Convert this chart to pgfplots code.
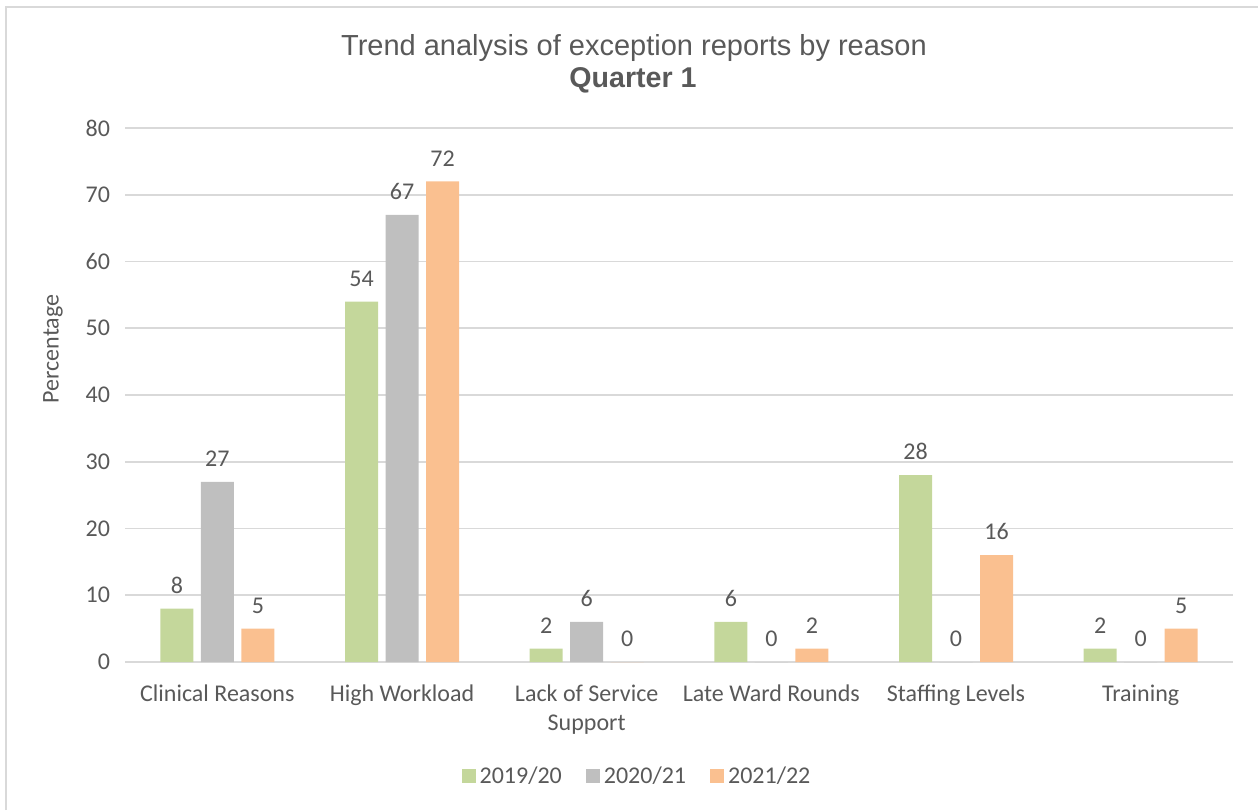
\documentclass[border=0pt]{standalone}
\usepackage{pgfplots}
\pgfplotsset{compat=1.18}
\usepackage{fontspec}
\setmainfont{Carlito}
\newfontfamily\titlefont{Liberation Sans}

\definecolor{txtgray}{HTML}{595959}
\definecolor{gridgray}{HTML}{D9D9D9}
\definecolor{cGreen}{HTML}{C4D79B}
\definecolor{cGray}{HTML}{BFBFBF}
\definecolor{cOrange}{HTML}{FAC090}

\begin{document}
\begin{tikzpicture}
% chart area (0.5pt per unit of the 1258 x 810 layout)
\path[use as bounding box] (0,0) rectangle (629pt,405pt);
\draw[gridgray, line width=0.8pt] (3pt,0) -- (3pt,401.5pt) -- (629pt,401.5pt);

\node[font=\titlefont\fontsize{14.5}{17}\selectfont, text=txtgray] at (317pt,381pt) {Trend analysis of exception reports by reason};
\node[font=\titlefont\bfseries\fontsize{14.3}{17}\selectfont, text=txtgray] at (316.5pt,365pt) {Quarter 1};

\begin{axis}[
  at={(62.5pt,74pt)}, anchor=south west,
  scale only axis, width=554pt, height=267pt,
  ybar=3.75pt, bar width=16.5pt,
  xmin=-0.5, xmax=5.5, ymin=0, ymax=80,
  xtick={0,1,2,3,4,5},
  xticklabels={Clinical Reasons, High Workload, Lack of Service\\Support, Late Ward Rounds, Staffing Levels, Training},
  xticklabel style={align=center, font=\fontsize{12}{14.5}\selectfont, text=txtgray, yshift=-8pt},
  ytick={0,10,...,80},
  yticklabel style={font=\fontsize{12}{14}\selectfont, text=txtgray, xshift=-4pt},
  /pgf/number format/assume math mode=true,
  major tick length=0pt,
  axis line style={draw=none},
  ymajorgrids, grid style={gridgray, line width=0.8pt},
  ylabel={Percentage},
  ylabel style={at={(axis description cs:-0.065,0.586)}, anchor=center, font=\fontsize{12}{14}\selectfont, text=txtgray},
  nodes near coords,
  every node near coord/.append style={font=\fontsize{12}{14}\selectfont, text=txtgray, yshift=4pt},
  legend columns=3,
  legend style={at={(axis description cs:0.463,-0.214)}, anchor=center, draw=none, fill=none,
    font=\fontsize{12}{14}\selectfont, text=txtgray,
    /tikz/every even column/.append style={column sep=10pt}},
  legend image code/.code={\fill[#1] (0pt,-3.2pt) rectangle (7pt,3.8pt);},
]
\addplot[fill=cGreen, draw=none] coordinates {(0,8) (1,54) (2,2) (3,6) (4,28) (5,2)};
\addplot[fill=cGray, draw=none] coordinates {(0,27) (1,67) (2,6) (3,0) (4,0) (5,0)};
\addplot[fill=cOrange, draw=none] coordinates {(0,5) (1,72) (2,0) (3,2) (4,16) (5,5)};
\legend{2019/20, 2020/21, 2021/22}
\end{axis}
\end{tikzpicture}
\end{document}
